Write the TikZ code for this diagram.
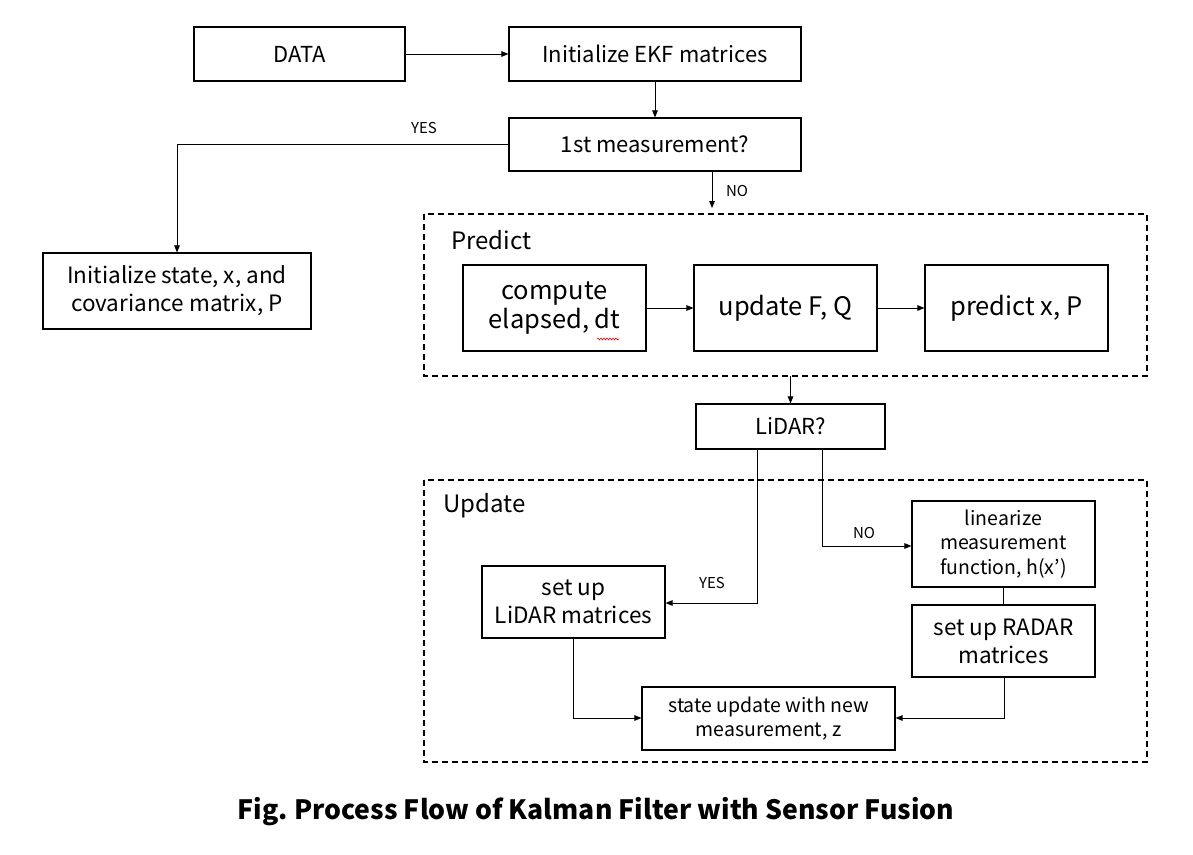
\documentclass[tikz,border=0pt]{standalone}
\usepackage{fontspec}
\setmainfont{Noto Sans CJK KR}
\usetikzlibrary{arrows.meta,decorations.pathmorphing}
\frenchspacing
\begin{document}
\begin{tikzpicture}[x=1pt,y=-1pt,
  box/.style={draw, line width=1.1pt, rectangle, inner sep=0pt, align=center},
  grp/.style={draw, line width=1.8pt, dash pattern=on 6pt off 4pt},
  conn/.style={line width=1pt, -{Triangle[length=7pt,width=5.5pt]}},
  plain/.style={line width=1pt},
  lbl/.style={font=\fontsize{15}{17}\selectfont, inner sep=0pt},
  fa/.style={font=\fontsize{22}{28}\selectfont},
  fi/.style={font=\fontsize{22.5}{28}\selectfont},
  fb/.style={font=\fontsize{25.5}{29}\selectfont},
  fc/.style={font=\fontsize{19.5}{24.5}\selectfont},
  fd/.style={font=\fontsize{22.5}{28}\selectfont}]
\useasboundingbox[fill=white] (0,0) rectangle (1193,854);
% groups
\draw[grp] (424,214) rectangle (1147,376);
\draw[grp] (424,480) rectangle (1147,762);
\node[anchor=west, inner sep=0pt, font=\fontsize{24}{28}\selectfont] (plbl) at (451,240) {Predict};
\node[anchor=west, inner sep=0pt, font=\fontsize{24}{28}\selectfont] (ulbl) at (443,506) {Update};
% boxes
\node[box, fa, minimum width=211pt, minimum height=54pt] (data) at (299.5,54) {DATA};
\node[box, fa, minimum width=292pt, minimum height=54pt] (ekf) at (655,54) {Initialize EKF matrices};
\node[box, fa, minimum width=292pt, minimum height=53pt] (first) at (655,144.5) {1st measurement?};
\node[box, fi, minimum width=268pt, minimum height=76pt] (init) at (177,291) {Initialize state, x, and\\covariance matrix, P};
\node[box, fb, minimum width=183pt, minimum height=86pt] (comp) at (554.5,308) {compute\\elapsed, dt};
\node[box, fb, minimum width=183pt, minimum height=86pt] (upd) at (785.5,308) {update F, Q};
\node[box, fb, minimum width=183pt, minimum height=86pt] (pred) at (1016.5,308) {predict x, P};
\node[box, fa, minimum width=189pt, minimum height=45pt] (lidar) at (790.5,426.5) {LiDAR?};
\node[box, fd, minimum width=183pt, minimum height=72pt] (setl) at (573.5,602) {set up\\LiDAR matrices};
\node[box, fc, minimum width=183pt, minimum height=86pt] (lin) at (1003.5,544) {linearize\\measurement\\function, h(x’)};
\node[box, fd, minimum width=183pt, minimum height=72pt] (radar) at (1003.5,641) {set up RADAR\\matrices};
\node[box, fc, minimum width=253pt, minimum height=63pt] (state) at (768.5,718.5) {state update with new\\measurement, z};
% spell-check squiggle
\draw[red, line width=0.6pt, decorate, decoration={snake, amplitude=0.9pt, segment length=3pt}] (597,339) -- (619,339);
% connectors
\draw[conn] (data.east) -- (ekf.west);
\draw[conn] (ekf.south) -- (first.north);
\draw[conn] (first.west) -| (init.north);
\node[lbl] (yes1) at (424,128) {YES};
\coordinate (noend) at (712,208);
\draw[conn] (first.south -| noend) -- (noend);
\node[lbl] (no1) at (737,191) {NO};
\draw[conn] (comp.east) -- (upd.west);
\draw[conn] (upd.east) -- (pred.west);
\coordinate (pbot) at (790.5,376);
\draw[conn] (pbot) -- (lidar.north);
\coordinate (ly) at (757,603);
\draw[conn] (lidar.south -| ly) -- (ly) -- (setl.east |- ly);
\node[lbl] (yes2) at (712,583) {YES};
\coordinate (ln) at (822,546);
\draw[conn] (lidar.south -| ln) -- (ln) -- (lin.west |- ln);
\node[lbl] (no2) at (864,533) {NO};
\draw[plain] (lin.south) -- (radar.north);
\coordinate (sl) at (573,718);
\draw[conn] (setl.south -| sl) -- (sl) -- (state.west |- sl);
\coordinate (sr) at (1004,718);
\draw[conn] (radar.south -| sr) -- (sr) -- (state.east |- sr);
% caption
\node[font=\bfseries\fontsize{26.6}{32}\selectfont, inner sep=0pt] (title) at (596,812) {Fig. Process Flow of Kalman Filter with Sensor Fusion};
\end{tikzpicture}
\end{document}
